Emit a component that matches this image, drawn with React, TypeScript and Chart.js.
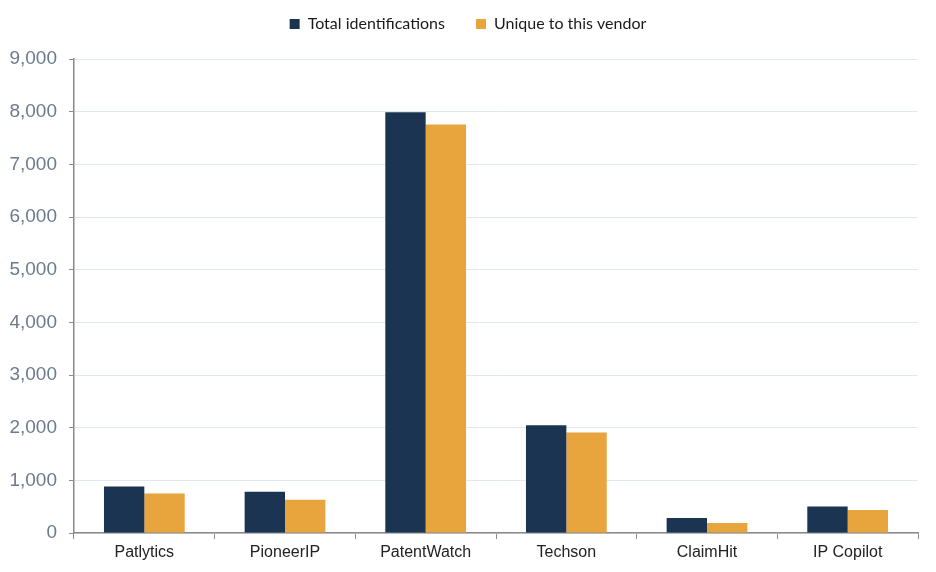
import React, { useEffect, useRef } from "react";
import { Chart, registerables } from "chart.js";

Chart.register(...registerables);

const categories = ["Patlytics", "PioneerIP", "PatentWatch", "Techson", "ClaimHit", "IP Copilot"];
const totalIdentifications = [885, 785, 7990, 2045, 285, 505];
const uniqueToVendor = [750, 630, 7760, 1910, 190, 435];
const seriesNames = ["Total identifications", "Unique to this vendor"];
const yMax = 9000;
const yStep = 1000;

const centerLegend = {
  id: "centerLegend",
  afterLayout(chart: any) {
    const l = chart.legend;
    if (l) {
      const shift = chart.width / 2 - (l.left + l.right) / 2;
      l.left += shift;
      l.right += shift;
    }
  },
};

export default function App() {
  const ref = useRef<HTMLCanvasElement | null>(null);
  useEffect(() => {
    if (!ref.current) return;
    const chart = new Chart(ref.current, {
      type: "bar",
      data: {
        labels: categories,
        datasets: [
          {
            label: seriesNames[0],
            data: totalIdentifications,
            backgroundColor: "#1b3451",
            categoryPercentage: 0.574,
            barPercentage: 1,
          },
          {
            label: seriesNames[1],
            data: uniqueToVendor,
            backgroundColor: "#e8a43d",
            categoryPercentage: 0.574,
            barPercentage: 1,
          },
        ],
      },
      plugins: [centerLegend],
      options: {
        animation: false,
        responsive: true,
        maintainAspectRatio: false,
        layout: { padding: { left: 0, right: 18, top: -15, bottom: 0 } },
        plugins: {
          tooltip: { enabled: false },
          title: {
            display: true,
            text: "",
            weight: -10,
            padding: { top: 16, bottom: 0 },
            font: { size: 1 },
          },
          legend: {
            position: "top",
            labels: {
              boxWidth: 10,
              boxHeight: 10,
              padding: 31,
              color: "#1a1a1a",
              font: { family: "Lato, 'Open Sans', sans-serif", size: 16 },
            },
          },
        },
        scales: {
          x: {
            grid: {
              offset: true,
              drawOnChartArea: false,
              tickColor: "#8a8a8a",
              tickLength: 6,
            },
            border: { color: "#8a8a8a", width: 1.5 },
            ticks: {
              color: "#222222",
              font: { family: "'Liberation Sans', Arial, sans-serif", size: 16 },
              padding: 4,
            },
            afterFit: (scale: any) => {
              scale.height = 39;
            },
          },
          y: {
            min: 0,
            max: yMax,
            ticks: {
              stepSize: yStep,
              color: "#6b7a8e",
              font: { family: "'Liberation Sans', Arial, sans-serif", size: 19 },
              padding: 12,
            },
            grid: {
              color: "#e1e8f0",
              tickColor: "#8a8a8a",
              tickLength: 5,
            },
            border: { color: "#8a8a8a", width: 1.5 },
            afterFit: (scale: any) => {
              scale.width = 74;
            },
          },
        },
      },
    });
    return () => chart.destroy();
  }, []);
  return (
    <div style={{ position: "fixed", left: 0, top: 0, width: 936, height: 572, background: "#ffffff" }}>
      <canvas ref={ref} />
    </div>
  );
}
